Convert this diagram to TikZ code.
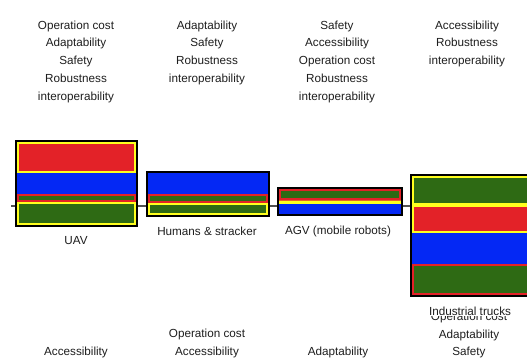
\documentclass[tikz,border=0pt]{standalone}
\usepackage{fontspec}
\setmainfont{Liberation Sans}
\definecolor{bred}{HTML}{E32228}
\definecolor{bblue}{HTML}{0428F4}
\definecolor{bgreen}{HTML}{2E6A14}
\definecolor{byellow}{HTML}{FFFF1E}
\definecolor{txt}{HTML}{1E1E1E}
\definecolor{conn}{HTML}{505050}
\newcommand\bandbox[6]{%
  \fill[#5] (#1,#2) rectangle (#3,#4);
  \draw[#6, line width=1.6pt] ({#1+0.8},{#2+0.8}) rectangle ({#3-0.8},{#4-0.8});}
\newcommand\bandplain[5]{\fill[#5] (#1,#2) rectangle (#3,#4);}
\tikzset{
  box/.style={draw=black, line width=2pt, rectangle, inner sep=0pt},
  lbl/.style={font=\fontsize{11.7}{17.8}\selectfont, text=txt, inner sep=0pt},
  lst/.style={lbl, align=center, anchor=north},
  connector/.style={draw=conn, line width=1.3pt}
}
\begin{document}
\begin{tikzpicture}[x=1pt,y=-1pt]
\useasboundingbox (0,0) rectangle (527,358);
\clip (0,0) rectangle (527,358);
\fill[white] (0,0) rectangle (527,358);
% connector line
\coordinate (lineL) at (11,206);
\coordinate (lineR) at (527,206);
\draw[connector] (lineL) -- (lineR);
% UAV bands
\bandbox{17}{142}{136}{173}{bred}{byellow}
\bandplain{17}{173}{136}{194}{bblue}
\bandbox{17}{194}{136}{202}{bgreen}{bred}
\bandbox{17}{202}{136}{225}{bgreen}{byellow}
% Humans bands
\bandplain{148}{173}{268}{194}{bblue}
\bandbox{148}{194}{268}{203}{bgreen}{bred}
\bandbox{148}{203}{268}{215}{bgreen}{byellow}
% AGV bands
\bandbox{279}{189}{401}{200}{bgreen}{bred}
\bandplain{279}{200}{401}{204}{byellow}
\draw[bred!70!byellow, line width=0.6pt] (279,200.3) -- (401,200.3);
\bandplain{279}{204}{401}{214}{bblue}
% Industrial trucks bands
\bandbox{412}{176}{545}{205}{bgreen}{byellow}
\bandbox{412}{205}{545}{233}{bred}{byellow}
\bandplain{412}{233}{545}{264}{bblue}
\bandbox{412}{264}{545}{295}{bgreen}{bred}
% boxes
\node[box, minimum width=121pt, minimum height=85pt] (uav) at (76.5,183.5) {};
\node[box, minimum width=122pt, minimum height=44pt] (hum) at (208,194) {};
\node[box, minimum width=124pt, minimum height=27pt] (agv) at (340,201.5) {};
\node[box, minimum width=133pt, minimum height=121pt] (ind) at (477.5,235.5) {};
% top lists
\node[lst] (t1) at (76,20) {\rule{0pt}{9pt}Operation cost\\Adaptability\\Safety\\Robustness\\interoperability};
\node[lst] (t2) at (207,20) {\rule{0pt}{9pt}Adaptability\\Safety\\Robustness\\interoperability};
\node[lst] (t3) at (337,20) {\rule{0pt}{9pt}Safety\\Accessibility\\Operation cost\\Robustness\\interoperability};
\node[lst] (t4) at (467,20) {\rule{0pt}{9pt}Accessibility\\Robustness\\interoperability};
% bottom lists
\node[lst] (b1) at (76,346) {\rule{0pt}{9pt}Accessibility};
\node[lst] (b2) at (207,328) {\rule{0pt}{9pt}Operation cost\\Accessibility};
\node[lst] (b3) at (338,346) {\rule{0pt}{9pt}Adaptability};
\node[lst] (b4) at (469,311) {\rule{0pt}{9pt}Operation cost\\Adaptability\\Safety};
% box labels
\node[lbl, anchor=base] (luav) at (76,244) {UAV};
\node[lbl, anchor=base] (lhum) at (207,235) {Humans \& stracker};
\node[lbl, anchor=base] (lagv) at (338,234) {AGV (mobile robots)};
\node[lbl, anchor=base, fill=white, inner sep=1pt] (lind) at (470,315) {Industrial trucks};
\end{tikzpicture}
\end{document}
